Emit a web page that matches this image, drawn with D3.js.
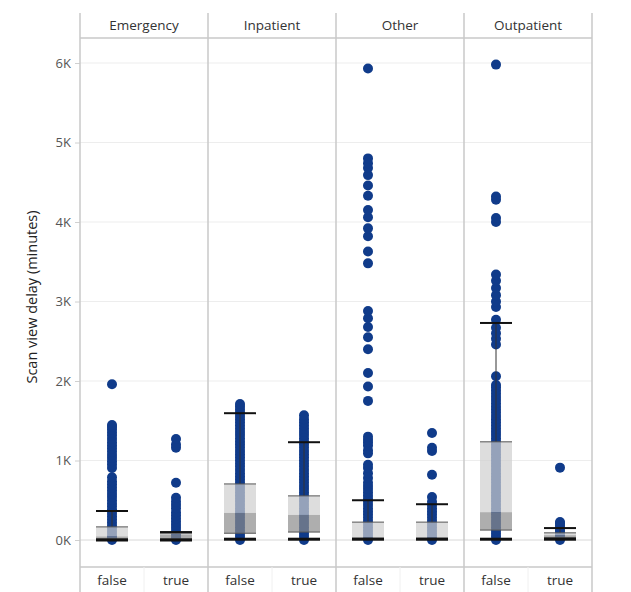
<!DOCTYPE html>
<html>
<head>
<meta charset="utf-8">
<script src="https://cdn.jsdelivr.net/npm/d3@7"></script>
<style>
  body { margin: 0; background: #fff; }
  text { font-family: "Open Sans", "DejaVu Sans", sans-serif; }
</style>
</head>
<body>
<svg id="chart" width="631" height="592"></svg>
<script>
// categories
const panels = ['Emergency', 'Inpatient', 'Other', 'Outpatient'];
const groups = ['false', 'true'];
const yTicks = [0, 1000, 2000, 3000, 4000, 5000, 6000];

// box stats, one entry per panel / group (false, true)
const whiskerLow = [0, 0, 10, 10, 10, 10, 10, 10];
const quartile1 = [15, 15, 85, 100, 20, 20, 125, 30];
const medians = [45, 70, 340, 315, 35, 35, 350, 60];
const quartile3 = [165, 85, 705, 555, 225, 225, 1235, 90];
const whiskerHigh = [365, 100, 1595, 1230, 500, 450, 2730, 150];

// individual scans (minutes)
const emergencyFalse = [0, 30, 60, 100, 140, 180, 220, 260, 300, 340, 380, 420, 460, 500, 540, 580, 620, 660, 700, 740, 790,
    905, 950, 990, 1030, 1070, 1110, 1150, 1190, 1230, 1270, 1310, 1350, 1390, 1420, 1445, 1960];
const emergencyTrue = [0, 35, 70, 110, 150, 190, 230, 270, 310, 350, 400, 440, 480, 530, 720, 1160, 1200, 1270];
const inpatientFalse = [0, 40, 80, 120, 160, 200, 240, 280, 320, 360, 400, 440, 480, 520, 560, 600, 640, 680, 720, 760,
    800, 840, 880, 920, 960, 1000, 1040, 1080, 1120, 1160, 1200, 1240, 1280, 1320, 1360, 1400, 1440, 1480, 1520, 1560,
    1600, 1640, 1680, 1710];
const inpatientTrue = [0, 40, 80, 120, 160, 200, 240, 280, 320, 360, 400, 440, 480, 520, 560, 600, 640, 680, 720, 760,
    800, 840, 880, 920, 960, 1000, 1040, 1080, 1120, 1160, 1200, 1240, 1280, 1320, 1360, 1400, 1440, 1480, 1520, 1570];
const otherFalse = [0, 40, 80, 120, 160, 200, 240, 280, 320, 360, 400, 440, 480, 520, 560, 600, 640, 680, 720, 780,
    840, 905, 945, 1090, 1130, 1190, 1230, 1260, 1300, 1750, 1930, 2100, 2400, 2550, 2680, 2790, 2880,
    3480, 3630, 3820, 3920, 4060, 4150, 4330, 4460, 4590, 4680, 4740, 4800, 5930];
const otherTrue = [0, 40, 80, 120, 160, 200, 240, 280, 320, 360, 400, 440, 480, 540, 820, 1120, 1160, 1345];
const outpatientFalse = [0, 40, 80, 120, 160, 200, 240, 280, 320, 360, 400, 440, 480, 520, 560, 600, 640, 680, 720, 760,
    800, 840, 880, 920, 960, 1000, 1040, 1080, 1120, 1160, 1200, 1240, 1280, 1320, 1360, 1400, 1440, 1480, 1520, 1560,
    1600, 1640, 1680, 1720, 1760, 1800, 1840, 1880, 1920, 1950, 2060, 2460, 2530, 2600, 2670, 2770, 2930, 3000,
    3080, 3170, 3260, 3340, 4000, 4050, 4280, 4320, 5980];
const outpatientTrue = [0, 30, 60, 90, 120, 150, 180, 210, 225, 910];

const pointSets = [emergencyFalse, emergencyTrue, inpatientFalse, inpatientTrue,
    otherFalse, otherTrue, outpatientFalse, outpatientTrue];

const boxes = [];
panels.forEach((p, i) => groups.forEach((g, j) => {
    const k = i * 2 + j;
    boxes.push({
        panel: p, group: g,
        lo: whiskerLow[k], q1: quartile1[k], med: medians[k], q3: quartile3[k], hi: whiskerHigh[k],
        points: pointSets[k]
    });
}));

const plotLeft = 80;
const plotRight = 592;
const frameTop = 13;
const headerBottom = 38;
const plotBottom = 567;
const frameBottom = 592;

const svg = d3.select('#chart');

const xPanel = d3.scaleBand().domain(panels).range([plotLeft, plotRight]);
const xGroup = d3.scaleBand().domain(groups).range([0, xPanel.bandwidth()]);
const y = d3.scaleLinear().domain([0, 6000]).range([540, 63]);

const cx = (d) => xPanel(d.panel) + xGroup(d.group) + xGroup.bandwidth() / 2;
const boxW = 32;

// gridlines
svg.append('g')
    .selectAll('line')
    .data(yTicks)
    .enter()
    .append('line')
    .attr('x1', plotLeft)
    .attr('x2', plotRight)
    .attr('y1', (d) => y(d))
    .attr('y2', (d) => y(d))
    .style('stroke', (d) => (d === 0 ? '#d8d8d8' : '#ededed'))
    .style('stroke-width', 1);

// y axis
const yAxis = d3.axisLeft(y)
    .tickValues(yTicks)
    .tickSize(5)
    .tickPadding(4)
    .tickFormat((d) => `${d / 1000}K`);

const axisG = svg.append('g')
    .attr('transform', `translate(${plotLeft},0)`)
    .call(yAxis);
axisG.select('.domain').remove();
axisG.selectAll('.tick line').style('stroke', '#d0d0d0');
axisG.selectAll('.tick text')
    .style('font-size', '13px')
    .style('fill', '#555');

svg.append('text')
    .attr('transform', 'translate(33,297) rotate(-90)')
    .attr('text-anchor', 'middle')
    .attr('dominant-baseline', 'middle')
    .style('font-size', '14.5px')
    .style('fill', '#222')
    .text('Scan view delay (minutes)');

// dots
const boxG = svg.append('g')
    .selectAll('g')
    .data(boxes)
    .enter()
    .append('g');

boxG.each(function (d) {
    d3.select(this)
        .selectAll('circle')
        .data(d.points)
        .enter()
        .append('circle')
        .attr('cx', cx(d))
        .attr('cy', (v) => y(v))
        .attr('r', 5)
        .style('fill', '#103b8a');
});

// box: upper (median..q3) light, lower (q1..median) dark
boxG.append('rect')
    .attr('x', (d) => cx(d) - boxW / 2)
    .attr('y', (d) => y(d.q3))
    .attr('width', boxW)
    .attr('height', (d) => y(d.med) - y(d.q3))
    .style('fill', '#cfcfcf')
    .style('opacity', 0.7);

boxG.append('rect')
    .attr('x', (d) => cx(d) - boxW / 2)
    .attr('y', (d) => y(d.med))
    .attr('width', boxW)
    .attr('height', (d) => y(d.q1) - y(d.med))
    .style('fill', '#8c8c8c')
    .style('opacity', 0.7);

// whiskers
boxG.append('line')
    .attr('x1', cx)
    .attr('x2', cx)
    .attr('y1', (d) => y(d.q3))
    .attr('y2', (d) => y(d.hi))
    .style('stroke', '#333')
    .style('stroke-width', 1);

boxG.selectAll('.edge')
    .data((d) => [d.q1, d.q3].map((v) => ({ d, v })))
    .enter()
    .append('line')
    .attr('class', 'edge')
    .attr('x1', (e) => cx(e.d) - boxW / 2)
    .attr('x2', (e) => cx(e.d) + boxW / 2)
    .attr('y1', (e) => y(e.v))
    .attr('y2', (e) => y(e.v))
    .style('stroke', '#555')
    .style('stroke-width', 1);

boxG.selectAll('.cap')
    .data((d) => [{ d, v: d.lo, w: 3 }, { d, v: d.hi, w: 2 }])
    .enter()
    .append('line')
    .attr('class', 'cap')
    .attr('x1', (e) => cx(e.d) - boxW / 2)
    .attr('x2', (e) => cx(e.d) + boxW / 2)
    .attr('y1', (e) => y(e.v))
    .attr('y2', (e) => y(e.v))
    .style('stroke', '#111')
    .style('stroke-width', (e) => e.w);

// frame: panel separators, header and footer rules
const frameColor = '#c8c8c8';
svg.append('g')
    .selectAll('line')
    .data(panels.map((p) => xPanel(p)).concat([plotRight]))
    .enter()
    .append('line')
    .attr('x1', (d) => d)
    .attr('x2', (d) => d)
    .attr('y1', frameTop)
    .attr('y2', frameBottom)
    .style('stroke', frameColor)
    .style('stroke-width', 1.5);

[headerBottom, plotBottom].forEach((yy) => {
    svg.append('line')
        .attr('x1', plotLeft)
        .attr('x2', plotRight)
        .attr('y1', yy)
        .attr('y2', yy)
        .style('stroke', frameColor)
        .style('stroke-width', 1.5);
});

// faint divider between false / true labels
svg.append('g')
    .selectAll('line')
    .data(panels)
    .enter()
    .append('line')
    .attr('x1', (p) => xPanel(p) + xGroup.bandwidth())
    .attr('x2', (p) => xPanel(p) + xGroup.bandwidth())
    .attr('y1', plotBottom)
    .attr('y2', frameBottom)
    .style('stroke', '#f0f0f0');

// header labels
svg.append('g')
    .selectAll('text')
    .data(panels)
    .enter()
    .append('text')
    .attr('x', (p) => xPanel(p) + xPanel.bandwidth() / 2)
    .attr('y', 26)
    .attr('text-anchor', 'middle')
    .attr('dominant-baseline', 'middle')
    .style('font-size', '13.5px')
    .style('fill', '#333')
    .text((p) => p);

// bottom labels
svg.append('g')
    .selectAll('text')
    .data(boxes)
    .enter()
    .append('text')
    .attr('x', cx)
    .attr('y', 581)
    .attr('text-anchor', 'middle')
    .attr('dominant-baseline', 'middle')
    .style('font-size', '13.5px')
    .style('fill', '#333')
    .text((d) => d.group);
</script>
</body>
</html>
